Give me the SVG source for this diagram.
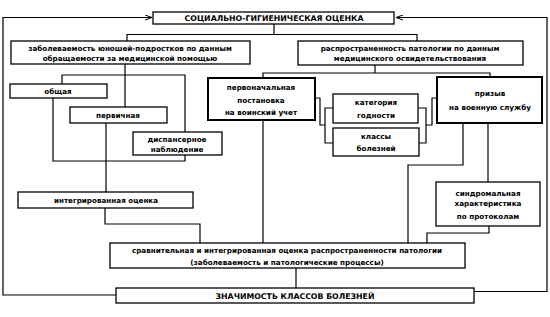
<svg xmlns="http://www.w3.org/2000/svg" width="550" height="317" viewBox="0 0 550 317">
<style>
.b{fill:#fff;stroke:#000;stroke-width:1.3}
.bt{fill:#fff;stroke:#000;stroke-width:2}
.c{fill:none;stroke:#000;stroke-width:1.2}
text{font-family:"DejaVu Sans","Liberation Sans",sans-serif;font-size:7.2px;font-weight:bold;fill:#000;text-anchor:middle}
.h{font-size:7.8px}
</style>
<defs>
<marker id="ar" markerWidth="8" markerHeight="6" refX="7" refY="3" orient="auto" markerUnits="userSpaceOnUse">
<path d="M0,0.5 L7,3 L0,5.5" fill="none" stroke="#000" stroke-width="1"/>
</marker>
</defs>
<rect width="550" height="317" fill="#fff"/>
<g id="connectors">
<path class="c" d="M116,295 H3 V17.5 H152" marker-end="url(#ar)"/>
<path class="c" d="M474,291.5 H547 V17.5 H396" marker-end="url(#ar)"/>
<path class="c" d="M274,24 V34.5 M127,41 V34.5 H417 V41"/>
<path class="c" d="M125,64 V107 M62,84 V75 H185 V132"/>
<path class="c" d="M53,98 V161 H185 V155"/>
<path class="c" d="M106,123 V192"/>
<path class="c" d="M105,208 V224 H200 V243"/>
<path class="c" d="M375,65 V73 M263,78 V73 H490 V77"/>
<path class="c" d="M263,120 V243"/>
<path class="c" d="M315,98 H320 V125 H325 M333,108 H325 V143 H333"/>
<path class="c" d="M418,108 H426 V143 H419 M426,125 H432 V98 H437"/>
<path class="c" d="M463,123 V165 H408 V243"/>
<path class="c" d="M488,123 V182"/>
<path class="c" d="M489,226 V233 H427 V243"/>
<path class="c" d="M296,267 V288"/>
</g>
<g id="n-social"><rect class="b" x="153" y="12" width="241" height="12"/><text class="h" x="274" y="21">СОЦИАЛЬНО-ГИГИЕНИЧЕСКАЯ ОЦЕНКА</text></g>
<g id="n-zabol"><rect class="b" x="11" y="41" width="239" height="23"/><text x="130" y="51">заболеваемость юношей-подростков по данным</text><text x="130" y="61">обращаемости за медицинской помощью</text></g>
<g id="n-rasprostr"><rect class="b" x="298" y="41" width="225" height="24"/><text x="410" y="51">распространенность патологии по данным</text><text x="410" y="61">медицинского освидетельствования</text></g>
<g id="n-obshaya"><rect class="b" x="10" y="84" width="97" height="14"/><text x="58" y="93.5">общая</text></g>
<g id="n-pervichnaya"><rect class="b" x="70" y="107" width="97" height="16"/><text x="118" y="117.5">первичная</text></g>
<g id="n-dispanser"><rect class="b" x="133" y="132" width="89" height="23"/><text x="177" y="141.5">диспансерное</text><text x="177" y="151.5">наблюдение</text></g>
<g id="n-pervonach"><rect class="bt" x="208" y="78" width="107" height="42"/><text x="261" y="90">первоначальная</text><text x="261" y="102.5">постановка</text><text x="261" y="115">на воинский учет</text></g>
<g id="n-kategoriya"><rect class="b" x="333" y="94" width="85" height="29"/><text x="376" y="105">категория</text><text x="376" y="118">годности</text></g>
<g id="n-klassy"><rect class="b" x="333" y="128" width="86" height="28"/><text x="376" y="139">классы</text><text x="376" y="151">болезней</text></g>
<g id="n-prizyv"><rect class="bt" x="437" y="77" width="105" height="46"/><text x="490" y="96">призыв</text><text x="490" y="110">на военную службу</text></g>
<g id="n-sindrom"><rect class="b" x="436" y="182" width="104" height="44"/><text x="488" y="196">синдромальная</text><text x="488" y="205.5">характеристика</text><text x="488" y="218.5">по протоколам</text></g>
<g id="n-integr"><rect class="b" x="18" y="192" width="175" height="16"/><text x="106" y="202.5">интегрированная оценка</text></g>
<g id="n-sravn"><rect class="b" x="110" y="243" width="355" height="25"/><text x="287" y="252.5">сравнительная и интегрированная оценка распространенности патологии</text><text x="287" y="265">(заболеваемость и патологические процессы)</text></g>
<g id="n-znach"><rect class="b" x="116" y="288" width="358" height="15"/><text class="h" x="295" y="298.5">ЗНАЧИМОСТЬ КЛАССОВ БОЛЕЗНЕЙ</text></g>
</svg>
